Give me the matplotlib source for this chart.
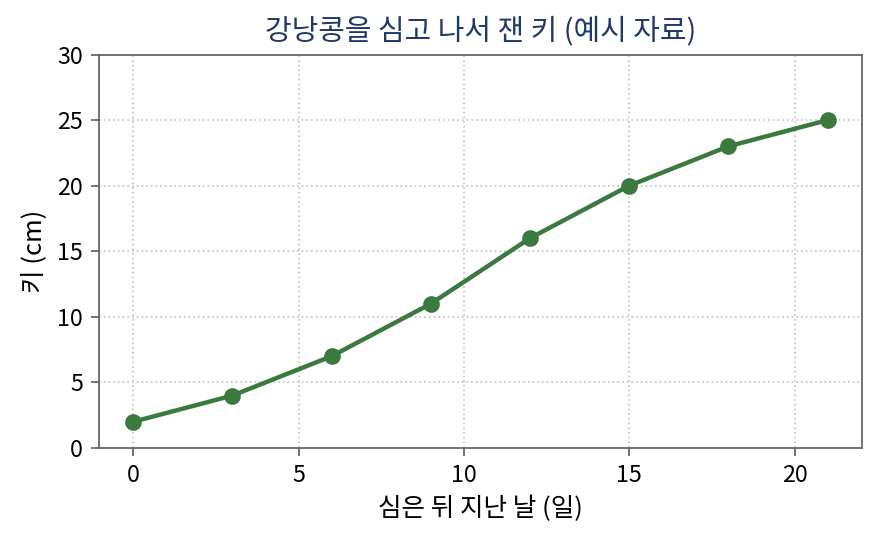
import matplotlib
matplotlib.use('Agg')
import matplotlib.pyplot as plt

plt.rcParams['font.family'] = ['Noto Sans CJK KR', 'DejaVu Sans']

days = [0, 3, 6, 9, 12, 15, 18, 21]
height_cm = [2, 4, 7, 11, 16, 20, 23, 25]
y_ticks = [0, 5, 10, 15, 20, 25, 30]
x_ticks = [0, 5, 10, 15, 20]

fig, ax = plt.subplots(figsize=(5.5, 3.40625), dpi=160)
fig.subplots_adjust(left=0.112, right=0.98, top=0.9, bottom=0.178)

ax.plot(days, height_cm, color='#3b7a3e', linewidth=2, marker='o', markersize=6.5)

ax.set_xlim(-1.05, 22.05)
ax.set_ylim(0, 30)
ax.set_xticks(x_ticks)
ax.set_yticks(y_ticks)
ax.grid(True, linestyle=':', color='#c8c8c8', linewidth=0.8)
for s in ax.spines.values():
    s.set_color('#666666')

ax.set_title('강낭콩을 심고 나서 잰 키 (예시 자료)', color='#1f3a68', fontsize=13, pad=7)
ax.set_xlabel('심은 뒤 지난 날 (일)', fontsize=11.5)
ax.set_ylabel('키 (cm)', fontsize=11.5)
ax.tick_params(labelsize=10.5, color='#666666')

fig.savefig('out.png', dpi=160)
